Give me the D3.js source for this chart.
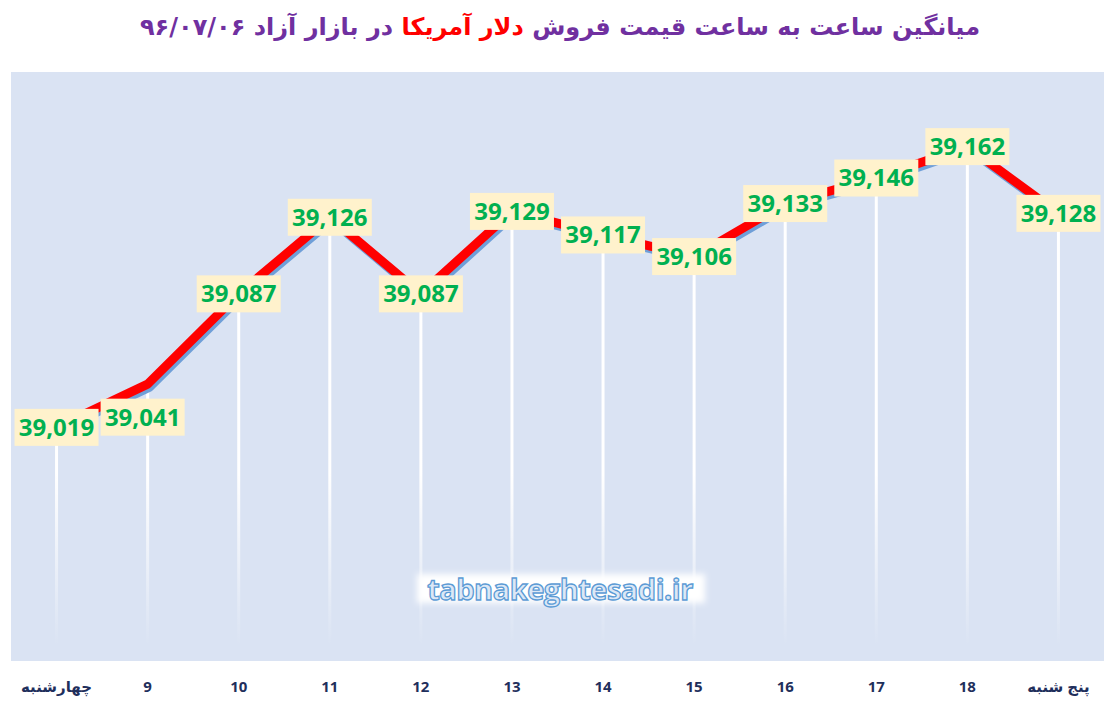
<!DOCTYPE html>
<html>
<head>
<meta charset="utf-8">
<script src="https://cdn.jsdelivr.net/npm/d3@7"></script>
<style>
  body { margin: 0; background: #fff; }
  svg { display: block; }
</style>
</head>
<body>
<div id="chart"></div>
<script>
// chart data
const hours = ["چهارشنبه", "9", "10", "11", "12", "13", "14", "15", "16", "17", "18", "پنج شنبه"];
const prices = [39019, 39041, 39087, 39126, 39087, 39129, 39117, 39106, 39133, 39146, 39162, 39128];
const titleParts = ["میانگین ساعت به ساعت قیمت فروش ", "دلار آمریکا", " در بازار آزاد ۹۶/۰۷/۰۶"];
const watermark = "tabnakeghtesadi.ir";

const width = 1115;
const height = 707;
const plot = {left: 11, right: 1104, top: 72, bottom: 661};

const svg = d3.select("#chart")
  .append("svg")
  .attr("width", width)
  .attr("height", height);

const defs = svg.append("defs");

// drop lines fade out toward the bottom
const fade = defs.append("linearGradient")
  .attr("id", "dropFade")
  .attr("gradientUnits", "userSpaceOnUse")
  .attr("x1", 0).attr("x2", 0)
  .attr("y1", plot.top).attr("y2", plot.bottom - 15);
fade.append("stop").attr("offset", "0.7").attr("stop-color", "#fff").attr("stop-opacity", 1);
fade.append("stop").attr("offset", "1").attr("stop-color", "#fff").attr("stop-opacity", 0);

defs.append("filter").attr("id", "soft")
  .attr("x", "-10%").attr("y", "-40%").attr("width", "120%").attr("height", "180%")
  .append("feGaussianBlur").attr("stdDeviation", 3);

// scales
const x = d3.scaleBand()
  .domain(d3.range(hours.length))
  .range([plot.left, plot.right]);

const y = d3.scaleLinear()
  .domain([38900, 39200])
  .range([plot.bottom, plot.top]);

const cx = i => x(i) + x.bandwidth() / 2;

// title
const title = svg.append("text")
  .attr("x", 560)
  .attr("y", 35)
  .attr("text-anchor", "middle")
  .attr("direction", "rtl")
  .attr("font-family", "'DejaVu Sans', sans-serif")
  .attr("font-weight", "bold")
  .attr("font-size", "24px")
  .attr("fill", "#7030a0");
titleParts.forEach((t, i) => {
  title.append("tspan")
    .attr("fill", i === 1 ? "#ff0000" : "#7030a0")
    .text(t);
});

// plot area background
svg.append("rect")
  .attr("x", plot.left)
  .attr("y", plot.top)
  .attr("width", plot.right - plot.left)
  .attr("height", plot.bottom - plot.top)
  .attr("fill", "#dae3f3");

// drop lines
svg.selectAll(".drop")
  .data(prices)
  .enter()
  .append("line")
    .attr("class", "drop")
    .attr("x1", (d, i) => cx(i))
    .attr("x2", (d, i) => cx(i))
    .attr("y1", d => y(d))
    .attr("y2", plot.bottom - 15)
    .attr("stroke", "url(#dropFade)")
    .attr("stroke-width", 3);

// watermark
svg.append("rect")
  .attr("x", 417).attr("y", 574)
  .attr("width", 288).attr("height", 29)
  .attr("fill", "#fff")
  .attr("filter", "url(#soft)");
svg.append("text")
  .attr("x", 560)
  .attr("y", 600)
  .attr("text-anchor", "middle")
  .attr("font-family", "'Open Sans', sans-serif")
  .attr("font-weight", "bold")
  .attr("font-size", "29px")
  .attr("letter-spacing", "-0.5px")
  .attr("fill", "#dce8f6")
  .attr("stroke", "#5b9bd5")
  .attr("stroke-width", 1.3)
  .text(watermark);

// price line with shadow
const line = d3.line()
  .x((d, i) => cx(i))
  .y(d => y(d));

svg.append("path")
  .datum(prices)
  .attr("d", line)
  .attr("transform", "translate(2,3)")
  .attr("fill", "none")
  .attr("stroke", "#6f9fd8")
  .attr("stroke-width", 9)
  .attr("stroke-linejoin", "round");

svg.append("path")
  .datum(prices)
  .attr("d", line)
  .attr("fill", "none")
  .attr("stroke", "#ff0000")
  .attr("stroke-width", 9)
  .attr("stroke-linejoin", "round");

// data labels (second one pushed below the line, as in the original)
const labelNudge = {1: [-5, 33]};
const labels = svg.selectAll(".label")
  .data(prices)
  .enter()
  .append("g")
    .attr("class", "label")
    .attr("transform", (d, i) => {
      const n = labelNudge[i] || [0, 0];
      return `translate(${cx(i) + n[0]},${y(d) + n[1]})`;
    });

labels.append("rect")
  .attr("x", -42)
  .attr("y", -18.5)
  .attr("width", 84)
  .attr("height", 37)
  .attr("fill", "#fff2cc");

labels.append("text")
  .attr("text-anchor", "middle")
  .attr("dy", "0.35em")
  .attr("font-family", "'Open Sans', sans-serif")
  .attr("font-weight", "bold")
  .attr("font-size", "24px")
  .attr("fill", "#00b050")
  .text(d => d3.format(",")(d));

// x axis labels
const xAxis = svg.append("g")
  .attr("transform", `translate(0,${plot.bottom})`)
  .call(d3.axisBottom(x).tickSize(0).tickPadding(20).tickFormat(i => hours[i]));
xAxis.select(".domain").remove();
xAxis.selectAll("text")
  .attr("font-family", "'Open Sans', 'DejaVu Sans', sans-serif")
  .attr("font-weight", "bold")
  .attr("font-size", "15px")
  .attr("fill", "#1f2f5c");
</script>
</body>
</html>
